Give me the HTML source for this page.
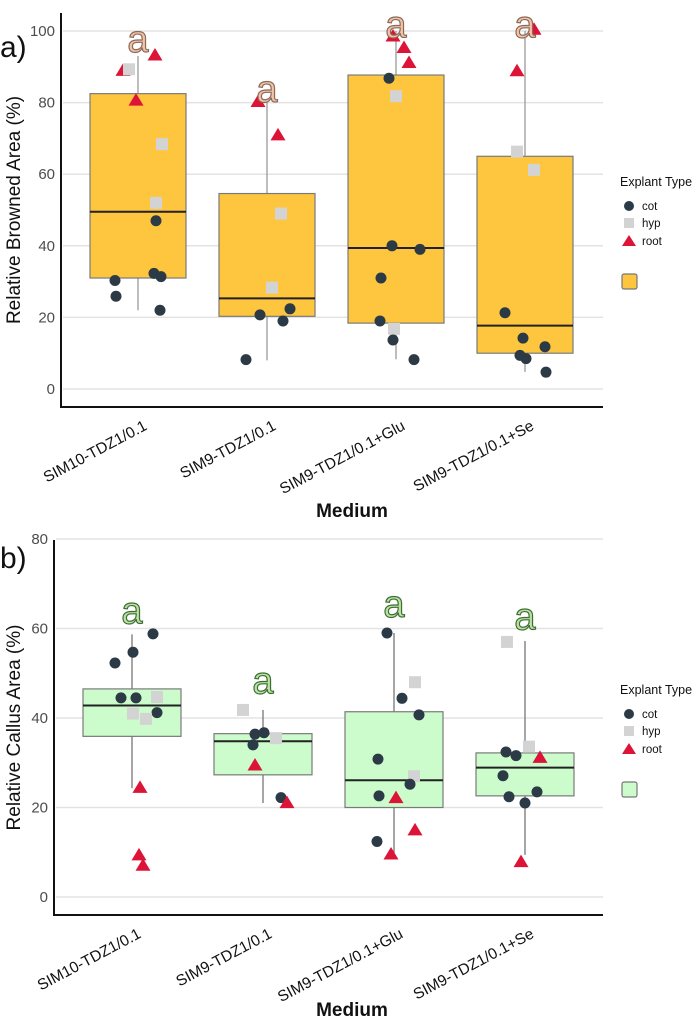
<!DOCTYPE html>
<html><head><meta charset="utf-8">
<style>
html,body{margin:0;padding:0;background:#fff;}
svg{display:block;font-family:"Liberation Sans",Arial,sans-serif;}
</style></head>
<body>
<svg id="fig" width="700" height="1018" viewBox="0 0 700 1018"></svg>
<script>
// ---------- Shared data ----------
const categories = ["SIM10-TDZ1/0.1","SIM9-TDZ1/0.1","SIM9-TDZ1/0.1+Glu","SIM9-TDZ1/0.1+Se"];
const yTicksA = [0,20,40,60,80,100];
const yTicksB = [0,20,40,60,80];
// Panel a box stats: [whiskerLow, q1, median, q3, whiskerHigh]
const boxA = [[22,31,49.5,82.5,93],[8,20.3,25.3,54.6,80],[8.3,18.4,39.4,87.7,100],[4.8,10,17.7,65,100]];
const ptsA_cat = [0,0,0,0,0,0,0,0,0,0,0,0, 1,1,1,1,1,1,1,1, 2,2,2,2,2,2,2,2,2,2,2,2, 3,3,3,3,3,3,3,3,3,3];
const ptsA_val = [89,93.3,80.7,89.3,68.4,52,47,32.3,31.4,30.3,25.9,22, 80.3,71,49,28.3,20.7,22.4,19,8.2, 98.6,95.4,91.2,86.8,81.8,40,39,31,19,16.8,13.7,8.2, 100.5,88.9,66.3,61.2,21.3,14.2,11.8,9.4,8.5,4.7];
const ptsA_type = ["root","root","root","hyp","hyp","hyp","cot","cot","cot","cot","cot","cot", "root","root","hyp","hyp","cot","cot","cot","cot", "root","root","root","cot","hyp","cot","cot","cot","cot","hyp","cot","cot", "root","root","hyp","hyp","cot","cot","cot","cot","cot","cot"];
const ptsA_jit = [-15,17,-2,-9,24,18,18,16,23,-23,-22,22, -9,11,14,5,-7,23,16,-21, -3,8,13,-7,0,-4,24,-15,-16,-2,-3,18, 9,-8,-8,9,-20,-2,20,-5,1,21];
const lettersA_val = [97.5,83.5,101.5,101.5];
// Panel b
const boxB = [[24.3,35.9,42.8,46.5,58.7],[21,27.3,34.8,36.5,41.8],[9.8,20,26.1,41.4,59],[9.4,22.6,28.9,32.2,57.2]];
const ptsB_cat = [0,0,0,0,0,0,0,0,0,0,0,0, 1,1,1,1,1,1,1,1, 2,2,2,2,2,2,2,2,2,2,2,2, 3,3,3,3,3,3,3,3,3,3];
const ptsB_val = [52.3,54.7,58.8,44.5,44.5,41.2,44.7,41,39.8,24.5,9.4,7.1, 41.8,36.4,36.7,34,35.5,29.5,22.2,21.1, 59,48,44.4,40.7,30.8,27,25.2,22.6,22.2,15,12.4,9.6, 57,33.6,32.4,31.6,31.2,27.1,23.5,22.4,21,7.9];
const ptsB_type = ["cot","cot","cot","cot","cot","cot","hyp","hyp","hyp","root","root","root", "hyp","cot","cot","cot","hyp","root","cot","root", "cot","hyp","cot","cot","cot","hyp","cot","cot","root","root","cot","root", "hyp","hyp","cot","cot","root","cot","cot","cot","cot","root"];
const ptsB_jit = [-17,1,21,-11,4,25,25,1,14,8,7,11, -20,-8,1,-10,13,-8,18,24, -7,21,8,25,-16,20,16,-15,2,21,-17,-3, -18,4,-19,-9,15,-22,12,-16,0,-4];
const lettersB_val = [63.8,48.2,65.3,62.5];

const NS="http://www.w3.org/2000/svg";
const svg=document.getElementById('fig');
function mk(tag,attrs,parent,text){const e=document.createElementNS(NS,tag);for(const k in attrs)e.setAttribute(k,attrs[k]);if(text!==undefined)e.textContent=text;(parent||svg).appendChild(e);return e;}

function panel(cfg){
  const g=mk('g',{});
  
  
  const y=v=>cfg.y0+(v-0)*(cfg.yTop-cfg.y0)/cfg.vTop;
  const x=i=>cfg.xc0+i*cfg.step;
  cfg.ticks.forEach(t=>{
    const gl=mk('line',{x1:cfg.axX+2,x2:cfg.right,y1:y(t),y2:y(t),stroke:'#e3e3e3','stroke-width':1.5},g);
    
    
    const tl=mk('text',{x:cfg.axX-6,y:y(t)+5,'text-anchor':'end','font-size':15,fill:'#4d4d4d'},g,String(t));
    
    
  });
  cfg.box.forEach((b,i)=>{
    const cx=x(i);
    const wl=mk('line',{x1:cx,x2:cx,y1:y(b[0]),y2:y(b[4]),stroke:cfg.whisk,'stroke-width':1.3},g);
    
    
    const r=mk('rect',{x:cx-cfg.bw/2,y:y(b[3]),width:cfg.bw,height:y(b[1])-y(b[3]),fill:cfg.fill,stroke:'#7a7a7a','stroke-width':1.2},g);
    
    
    const m=mk('line',{x1:cx-cfg.bw/2,x2:cx+cfg.bw/2,y1:y(b[2]),y2:y(b[2]),stroke:'#222','stroke-width':2},g);
    
    
  });
  cfg.val.forEach((v,k)=>{
    const px=x(cfg.cat[k])+cfg.jit[k], py=y(v), t=cfg.type[k];
    let e;
    if(t==='cot') e=mk('circle',{cx:px,cy:py,r:5.5,fill:'#2b3a45'},g);
    else if(t==='hyp') e=mk('rect',{x:px-6,y:py-6,width:12,height:12,fill:'#d3d3d3'},g);
    else e=mk('polygon',{points:`${px},${py-7} ${px-7.5},${py+5.5} ${px+7.5},${py+5.5}`,fill:'#dc1437'},g);
    
    
  });
  cfg.letters.forEach((v,i)=>{
    const l=mk('text',{x:x(i),y:y(v)+12,'text-anchor':'middle','font-size':38,fill:cfg.lfill,stroke:cfg.lstroke,'stroke-width':1.2},g,'a');
    
    
  });
  const ya=mk('line',{x1:cfg.axX,x2:cfg.axX,y1:cfg.axTop,y2:cfg.axBot,stroke:'#111','stroke-width':2},g);
  
  
  const xa=mk('line',{x1:cfg.axX-1,x2:cfg.right,y1:cfg.axBot,y2:cfg.axBot,stroke:'#111','stroke-width':2},g);
  
  
  categories.forEach((c,i)=>{
    const lx=x(i)+10, ly=cfg.axBot+22;
    const t=mk('text',{x:lx,y:ly,'text-anchor':'end','font-size':15.5,fill:'#111',transform:`rotate(-28 ${lx} ${ly})`},g,c);
    
    
  });
  const xt=mk('text',{x:352,y:cfg.xTitleY,'text-anchor':'middle','font-size':19,'font-weight':'bold',fill:'#111'},g,'Medium');
  
  
  const ytx=20, yty=(cfg.axTop+cfg.axBot)/2+cfg.ytOff;
  const yt=mk('text',{x:ytx,y:yty,'text-anchor':'middle','font-size':19,fill:'#111',transform:`rotate(-90 ${ytx} ${yty})`},g,cfg.ytitle);
  
  
  const pl=mk('text',{x:0,y:cfg.labelY,'font-size':30,fill:'#111'},g,cfg.label);
  
  
  const lg=mk('g',{},g);
  
  
  const L=cfg.legY;
  mk('text',{x:620,y:L,'font-size':12.5,fill:'#111'},lg,'Explant Type');
  mk('circle',{cx:629,cy:L+20,r:5,fill:'#2b3a45'},lg);
  mk('text',{x:642,y:L+24,'font-size':11.5,fill:'#111'},lg,'cot');
  mk('rect',{x:624,y:L+32,width:10,height:10,fill:'#d3d3d3'},lg);
  mk('text',{x:642,y:L+41,'font-size':11.5,fill:'#111'},lg,'hyp');
  mk('polygon',{points:`629,${L+49} 622,${L+60} 636,${L+60}`,fill:'#dc1437'},lg);
  mk('text',{x:642,y:L+59,'font-size':11.5,fill:'#111'},lg,'root');
  mk('rect',{x:622,y:L+88,width:15,height:15,rx:2,fill:cfg.fill,stroke:'#777','stroke-width':1.2},lg);
}

panel({name:'panel-a-browned-area',y0:389,yTop:31,vTop:100,xc0:138,step:129,bw:96,axX:61,right:603,axTop:13,axBot:407,
  ticks:yTicksA,box:boxA,cat:ptsA_cat,val:ptsA_val,type:ptsA_type,jit:ptsA_jit,letters:lettersA_val,
  fill:'#fec63e',whisk:'#9a9a9a',lfill:'#f3c3a3',lstroke:'#8a6a5c',xTitleY:517,ytitle:'Relative Browned Area (%)',ytOff:0,
  label:'a)',labelY:57,legY:186});
panel({name:'panel-b-callus-area',y0:897,yTop:539,vTop:80,xc0:132,step:131,bw:98,axX:54,right:603,axTop:540,axBot:915,
  ticks:yTicksB,box:boxB,cat:ptsB_cat,val:ptsB_val,type:ptsB_type,jit:ptsB_jit,letters:lettersB_val,
  fill:'#ccfccc',whisk:'#777',lfill:'#b9e2a3',lstroke:'#3f6e35',xTitleY:1016,ytitle:'Relative Callus Area (%)',ytOff:0,
  label:'b)',labelY:568,legY:694});
</script>
</body></html>
